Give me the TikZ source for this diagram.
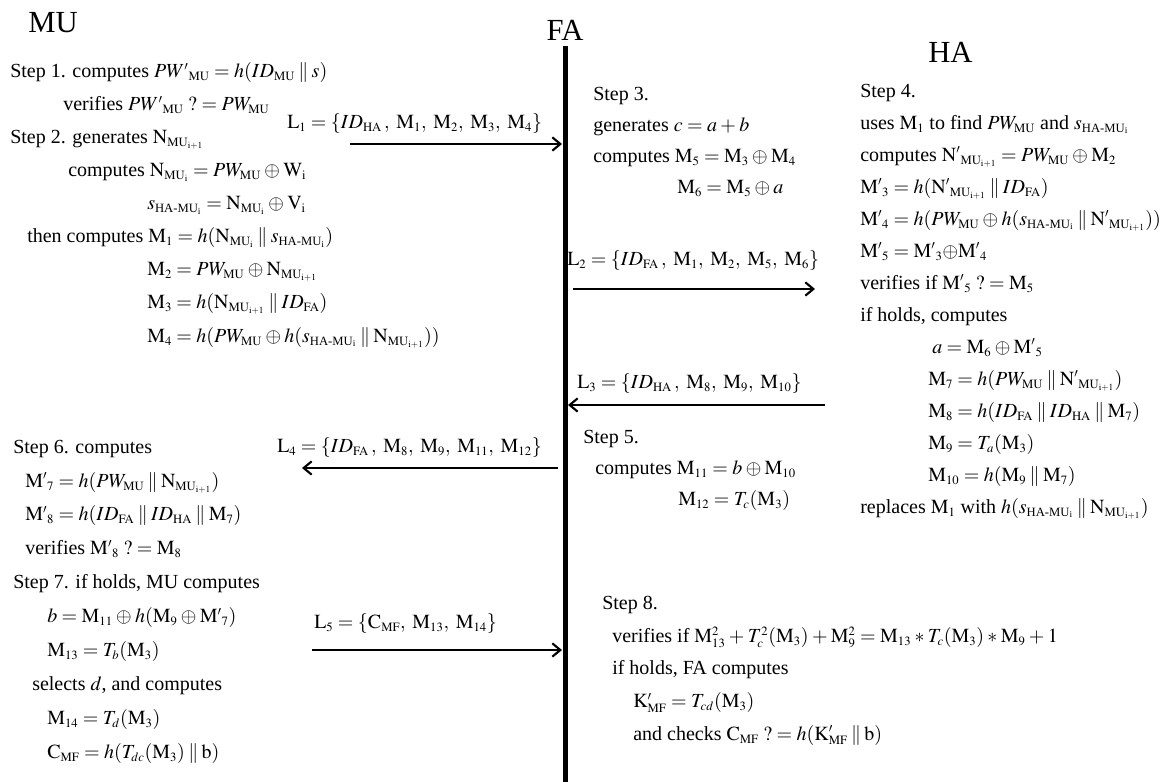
\documentclass[tikz,border=0pt]{standalone}
\usepackage{amsmath}
\usepackage{mathptmx}
\usepackage{fontspec}
\setmainfont{Liberation Serif}
\usetikzlibrary{arrows.meta}
\DeclareMathSizes{15}{15}{9.5}{7}

\newlength{\px}\setlength{\px}{0.75pt}
\newcommand{\pwmu}{PW_{\mathrm{MU}}}
\newcommand{\Mm}[1]{\mathrm{M}_{#1}}
\newcommand{\Mp}[1]{\mathrm{M}'{}_{#1}}
\newcommand{\Nmu}[1]{\mathrm{N}_{\mathrm{MU}_{\mathrm{#1}}}}
\newcommand{\Npmu}{\mathrm{N}'{}_{\mathrm{MU}_{\mathrm{i+1}}}}
\newcommand{\shamu}{s_{\text{HA-MU}_{\text{i}}}}
\newcommand{\cat}{\mathbin{\|}}
\newcommand{\qeq}{\mathrel{?\;{=}}}
\newcommand{\sep}{,\;}
\newcommand{\tightmath}{\medmuskip=3mu\relax\thickmuskip=4mu\relax}

\begin{document}
\begin{tikzpicture}[x=0.75pt, y=-0.75pt,
    every node/.style={inner sep=0pt},
    party/.style={font=\fontsize{23}{28}\selectfont},
    stepbox/.style={anchor=base west, align=left,
      font=\fontsize{15}{#1}\selectfont\tightmath},
    stepbox/.default=24.6pt,
    msg/.style={anchor=base west, font=\fontsize{15}{18}\selectfont},
    flow/.style={line width=2pt, -{Straight Barb[length=6pt,width=10pt,line width=1.6pt]}}]
  \useasboundingbox (0,0) rectangle (1172,782);
  % the three parties
  \node[party, anchor=base west] (mu) at (28,32) {MU};
  \node[party, anchor=base] (fa) at (565,40) {FA};
  \node[party, anchor=base west] (ha) at (928,62) {HA};
  \coordinate (faTop) at (565,46);
  \coordinate (faBot) at (565,782);
  \draw[line width=3.75pt] (faTop) -- (faBot);

  % MU: steps 1 and 2 (anchored at the last line)
  \node[stepbox=24.8pt] (muA) at (10,342) {%
    Step 1. computes $PW'{}_{\mathrm{MU}}=h(ID_{\mathrm{MU}}\cat s)$\\
    \hspace*{53\px}verifies $PW'{}_{\mathrm{MU}}\qeq\pwmu$\\
    Step 2. generates $\Nmu{i+1}$\\
    \hspace*{58\px}computes $\Nmu{i}=\pwmu\oplus\mathrm{W}_{\mathrm{i}}$\\
    \hspace*{137\px}$\shamu=\Nmu{i}\oplus\mathrm{V}_{\mathrm{i}}$\\
    \hspace*{17\px}then computes $\Mm1=h(\Nmu{i}\cat\shamu)$\\
    \hspace*{137\px}$\Mm2=\pwmu\oplus\Nmu{i+1}$\\
    \hspace*{137\px}$\Mm3=h(\Nmu{i+1}\cat ID_{\mathrm{FA}})$\\
    \hspace*{137\px}$\Mm4=h(\pwmu\oplus h(\shamu\cat\Nmu{i+1}))$};

  % FA: step 3
  \node[stepbox=23.2pt] (faA) at (593,193) {%
    Step 3.\\
    generates $c=a+b$\\
    computes $\Mm5=\Mm3\oplus\Mm4$\\
    \hspace*{84\px}$\Mm6=\Mm5\oplus a$};

  % HA: step 4
  \node[stepbox=24pt] (haA) at (860,513) {%
    Step 4.\\
    uses $\Mm1$ to find $\pwmu$ and $\shamu$\\
    computes $\Npmu=\pwmu\oplus\Mm2$\\
    $\Mp3=h(\Npmu\cat ID_{\mathrm{FA}})$\\
    $\Mp4=h(\pwmu\oplus h(\shamu\cat\Npmu))$\\
    $\Mp5=\Mp3{\oplus}\Mp4$\\
    verifies if $\Mp5\qeq\Mm5$\\
    if holds, computes\\
    \hspace*{72\px}$a=\Mm6\oplus\Mp5$\\
    \hspace*{68\px}$\Mm7=h(\pwmu\cat\Npmu)$\\
    \hspace*{68\px}$\Mm8=h(ID_{\mathrm{FA}}\cat ID_{\mathrm{HA}}\cat\Mm7)$\\
    \hspace*{68\px}$\Mm9=T_a(\Mm3)$\\
    \hspace*{68\px}$\Mm{10}=h(\Mm9\cat\Mm7)$\\
    replaces $\Mm1$ with $h(\shamu\cat\Nmu{i+1})$};

  % FA: step 5
  \node[stepbox=23.2pt] (faB) at (583,505) {%
    Step 5.\\
    \hspace*{12\px}computes $\Mm{11}=b\oplus\Mm{10}$\\
    \hspace*{95\px}$\Mm{12}=T_c(\Mm3)$};

  % MU: steps 6 and 7
  \node[stepbox=25.4pt] (muB) at (13,758) {%
    Step 6. computes\\
    \hspace*{12\px}$\Mp7=h(\pwmu\cat\Nmu{i+1})$\\
    \hspace*{12\px}$\Mp8=h(ID_{\mathrm{FA}}\cat ID_{\mathrm{HA}}\cat\Mm7)$\\
    \hspace*{12\px}verifies $\Mp8\qeq\Mm8$\\
    Step 7. if holds, MU computes\\
    \hspace*{34\px}$b=\Mm{11}\oplus h(\Mm9\oplus\Mp7)$\\
    \hspace*{34\px}$\Mm{13}=T_b(\Mm3)$\\
    \hspace*{19\px}selects $d$, and computes\\
    \hspace*{34\px}$\Mm{14}=T_d(\Mm3)$\\
    \hspace*{34\px}$\mathrm{C}_{\mathrm{MF}}=h(T_{dc}(\Mm3)\cat\mathrm{b})$};

  % FA: step 8
  \node[stepbox=24.4pt] (faC) at (602,740) {%
    Step 8.\\
    \hspace*{10\px}verifies if $\Mm{13}^2+T_c^2(\Mm3)+\Mm9^2=\Mm{13}*T_c(\Mm3)*\Mm9+1$\\
    \hspace*{10\px}if holds, FA computes\\
    \hspace*{31\px}$\mathrm{K}^{\prime}_{\mathrm{MF}}=T_{cd}(\Mm3)$\\
    \hspace*{31\px}and checks $\mathrm{C}_{\mathrm{MF}}\qeq h(\mathrm{K}^{\prime}_{\mathrm{MF}}\cat\mathrm{b})$};

  % messages
  \node[msg] (l1) at (287,128)
    {$\mathrm{L}_1=\{ID_{\mathrm{HA}}\,\sep\Mm1\sep\Mm2\sep\Mm3\sep\Mm4\}$};
  \coordinate (l1s) at (350,144);
  \coordinate (l1e) at (562,144);
  \draw[flow] (l1s) -- (l1e);

  \node[msg] (l2) at (567,265)
    {$\mathrm{L}_2=\{ID_{\mathrm{FA}}\,\sep\Mm1\sep\Mm2\sep\Mm5\sep\Mm6\}$};
  \coordinate (l2s) at (573,289);
  \coordinate (l2e) at (815,289);
  \draw[flow] (l2s) -- (l2e);

  \node[msg] (l3) at (577,388)
    {$\mathrm{L}_3=\{ID_{\mathrm{HA}}\,\sep\Mm8\sep\Mm9\sep\Mm{10}\}$};
  \coordinate (l3s) at (825,405);
  \coordinate (l3e) at (568,405);
  \draw[flow] (l3s) -- (l3e);

  \node[msg] (l4) at (277,452)
    {$\mathrm{L}_4=\{ID_{\mathrm{FA}}\,\sep\Mm8\sep\Mm9\sep\Mm{11}\sep\Mm{12}\}$};
  \coordinate (l4s) at (558,468);
  \coordinate (l4e) at (302,468);
  \draw[flow] (l4s) -- (l4e);

  \node[msg] (l5) at (314,628)
    {$\mathrm{L}_5=\{\mathrm{C}_{\mathrm{MF}}\sep\Mm{13}\sep\Mm{14}\}$};
  \coordinate (l5s) at (312,650);
  \coordinate (l5e) at (562,650);
  \draw[flow] (l5s) -- (l5e);
\end{tikzpicture}
\end{document}
